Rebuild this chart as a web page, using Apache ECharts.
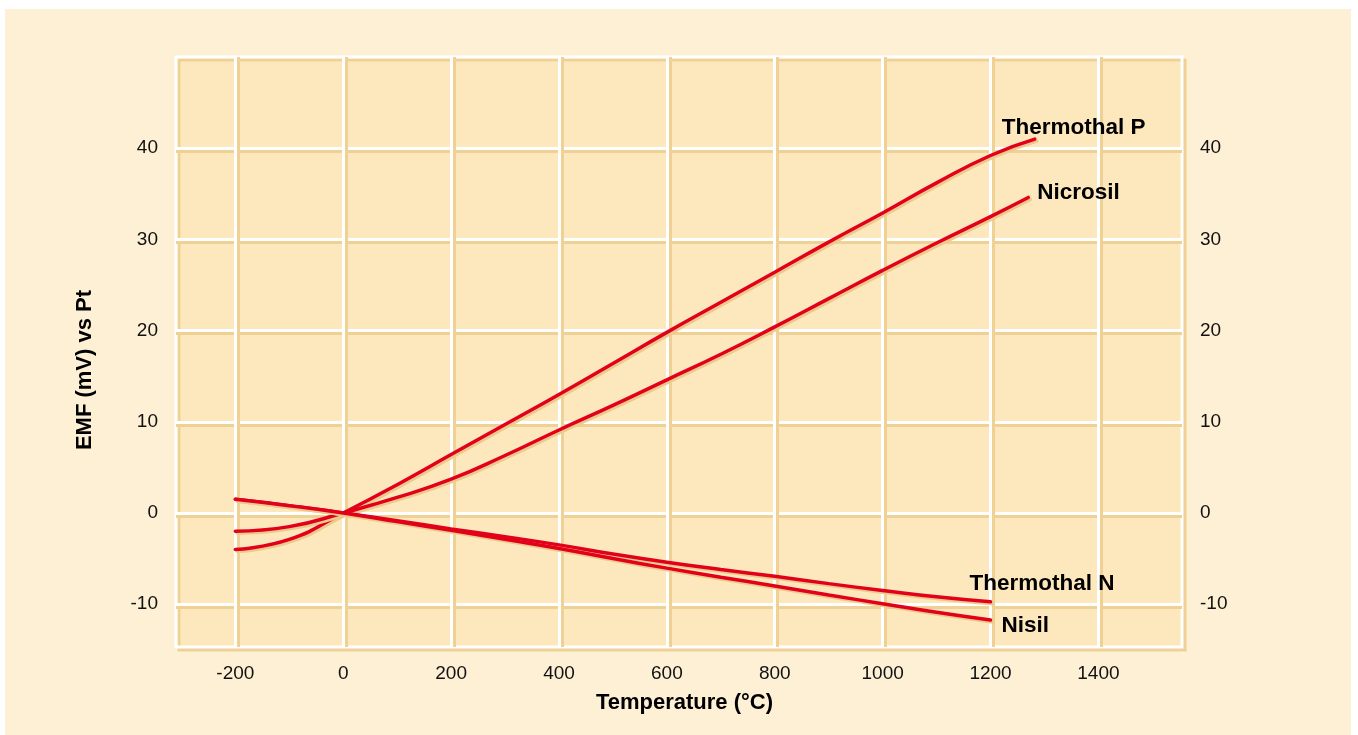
<!DOCTYPE html>
<html>
<head>
<meta charset="utf-8">
<script src="https://cdn.jsdelivr.net/npm/echarts@6/dist/echarts.min.js"></script>
<style>
  html, body { margin: 0; padding: 0; background: #ffffff; }
  #panel { position: absolute; left: 5px; top: 9px; width: 1346px; height: 726px; background: #fdf0d4; }
  #chart { position: absolute; left: 0; top: 0; width: 1358px; height: 735px; }
</style>
</head>
<body>
<div id="panel"></div>
<div id="chart"></div>
<script>
// ---- data ----
const xTicks = [-200, 0, 200, 400, 600, 800, 1000, 1200, 1400];
const yTicks = [-10, 0, 10, 20, 30, 40];

const thermothalP = [[-200, -4.0], [-100, -2.9], [0, 0], [100, 3.1], [200, 6.4], [300, 9.7], [400, 13.0], [500, 16.4], [600, 19.8], [700, 23.1], [800, 26.4], [900, 29.7], [1000, 32.9], [1100, 36.2], [1200, 39.2], [1282, 41.0]];
const nicrosil    = [[-200, -2.0], [-100, -1.5], [0, 0], [100, 1.7], [200, 3.7], [300, 6.3], [400, 9.1], [500, 11.8], [600, 14.6], [700, 17.4], [800, 20.4], [900, 23.5], [1000, 26.6], [1100, 29.6], [1200, 32.5], [1270, 34.6]];
const thermothalN = [[-200, 1.5], [-100, 0.8], [0, 0], [100, -0.85], [200, -1.75], [300, -2.6], [400, -3.5], [500, -4.5], [600, -5.4], [700, -6.2], [800, -6.95], [900, -7.75], [1000, -8.5], [1100, -9.2], [1200, -9.75]];
const nisil       = [[-200, 1.5], [-100, 0.8], [0, 0], [100, -0.95], [200, -1.9], [300, -2.9], [400, -3.9], [500, -5.0], [600, -6.05], [700, -7.05], [800, -8.0], [900, -9.0], [1000, -9.95], [1100, -10.9], [1200, -11.75]];

const seriesNames = ['Thermothal P', 'Nicrosil', 'Thermothal N', 'Nisil'];
const seriesData = [thermothalP, nicrosil, thermothalN, nisil];
const labelOffsets = [[-33, -11.5], [9, -5], [-21, -18], [11, 5.5]];

const xTitle = 'Temperature (°C)';
const yTitle = 'EMF (mV) vs Pt';

// ---- chart ----
const FONT = 'Liberation Sans, Arial, sans-serif';
const chart = echarts.init(document.getElementById('chart'), null, { renderer: 'canvas' });

const lineColor = '#e2001a';
const shadowTan = '#ecca8c';
const gridTan = '#efd196';

const series = seriesNames.map((name, i) => ({
  name: name,
  type: 'line',
  data: seriesData[i],
  smooth: 0.5,
  symbol: 'none',
  lineStyle: {
    color: lineColor,
    width: 3.5,
    cap: 'round',
    shadowColor: shadowTan,
    shadowOffsetX: 2,
    shadowOffsetY: 2,
    shadowBlur: 0
  },
  endLabel: {
    show: true,
    formatter: '{a}',
    color: '#000',
    fontFamily: FONT,
    fontWeight: 'bold',
    fontSize: 22.5,
    distance: 0,
    align: 'left',
    verticalAlign: 'middle',
    offset: labelOffsets[i]
  },
  silent: true,
  animation: false
}));

const plainNum = v => String(v);

const option = {
  animation: false,
  backgroundColor: 'transparent',
  grid: {
    show: true,
    left: 176,
    top: 57,
    width: 1006,
    height: 590,
    backgroundColor: '#fde8bd',
    borderColor: '#ffffff',
    borderWidth: 3,
    shadowColor: gridTan,
    shadowOffsetX: 3,
    shadowOffsetY: 3,
    shadowBlur: 0
  },
  xAxis: {
    type: 'value',
    min: -310,
    max: 1555,
    axisLine: { show: false },
    axisTick: { show: false, customValues: xTicks },
    axisLabel: {
      customValues: xTicks,
      formatter: plainNum,
      fontSize: 19,
      fontFamily: FONT,
      color: '#111',
      margin: 17
    },
    splitLine: {
      show: true,
      lineStyle: { color: '#ffffff', width: 3, shadowColor: gridTan, shadowOffsetX: 3, shadowOffsetY: 0, shadowBlur: 0 }
    }
  },
  yAxis: [
    {
      type: 'value',
      min: -14.7,
      max: 50,
      position: 'left',
      axisLine: { show: false },
      axisTick: { show: false, customValues: yTicks },
      axisLabel: {
        customValues: yTicks,
        formatter: plainNum,
        fontSize: 19,
        fontFamily: FONT,
        color: '#111',
        margin: 18
      },
      splitLine: {
        show: true,
        lineStyle: { color: '#ffffff', width: 3, shadowColor: gridTan, shadowOffsetX: 0, shadowOffsetY: 3, shadowBlur: 0 }
      }
    },
    {
      type: 'value',
      min: -14.7,
      max: 50,
      position: 'right',
      axisLine: { show: false },
      axisTick: { show: false, customValues: yTicks },
      axisLabel: {
        customValues: yTicks,
        formatter: plainNum,
        fontSize: 19,
        fontFamily: FONT,
        color: '#111',
        margin: 18
      },
      splitLine: { show: false }
    }
  ],
  graphic: [
    {
      type: 'text',
      x: 684.5,
      y: 703,
      style: {
        text: xTitle,
        fill: '#000',
        font: 'bold 22px ' + FONT,
        textAlign: 'center',
        textVerticalAlign: 'middle'
      },
      silent: true
    },
    {
      type: 'text',
      x: 85,
      y: 370,
      rotation: Math.PI / 2,
      style: {
        text: yTitle,
        fill: '#000',
        font: 'bold 22px ' + FONT,
        textAlign: 'center',
        textVerticalAlign: 'middle'
      },
      silent: true
    }
  ],
  series: series
};

chart.setOption(option);
</script>
</body>
</html>
